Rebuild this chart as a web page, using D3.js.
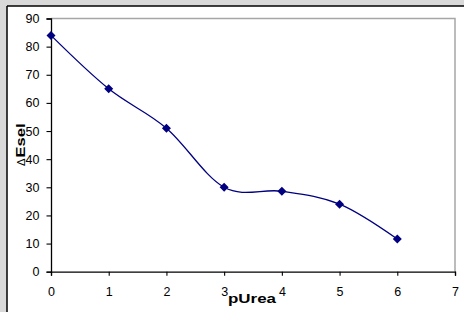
<!DOCTYPE html>
<html><head><meta charset="utf-8">
<script src="https://cdn.jsdelivr.net/npm/d3@7"></script>
<style>
html,body{margin:0;padding:0;background:#d9d9d9;}
svg{display:block;}
</style></head>
<body>
<script>
const xValues = [0, 1, 2, 3, 4, 5, 6];
const yValues = [84, 65, 51, 30, 28.6, 24, 11.6];
const xTicks = [0, 1, 2, 3, 4, 5, 6, 7];
const yTicks = [0, 10, 20, 30, 40, 50, 60, 70, 80, 90];
const xTitle = "pUrea";
const yTitleSymbol = "\u0394";
const yTitle = "Esel";

const W = 464, H = 312;
const svg = d3.select("body").append("svg").attr("width", W).attr("height", H);

// chart area
svg.append("rect").attr("x", 7).attr("y", 6).attr("width", W).attr("height", H).attr("fill", "#fff");
svg.append("line").attr("x1", 7).attr("x2", 7).attr("y1", 6).attr("y2", H).attr("stroke", "#000").attr("stroke-width", 1.5);
svg.append("line").attr("x1", 7).attr("x2", W).attr("y1", 6).attr("y2", 6).attr("stroke", "#000").attr("stroke-width", 1.5);

const x = d3.scaleLinear().domain([0, 7]).range([51, 455]);
const y = d3.scaleLinear().domain([0, 90]).range([271.7, 18.5]);

// plot area border top/right
svg.append("path")
  .attr("d", `M${x(0)},${y(90)}H${x(7)}V${y(0)}`)
  .attr("fill", "none").attr("stroke", "#a6a6a6").attr("stroke-width", 1.5);

const fontFam = "'Liberation Sans', Arial, sans-serif";

const yAxis = svg.append("g").attr("transform", `translate(${x(0)},0)`)
  .call(d3.axisLeft(y).tickValues(yTicks).tickSize(4.5).tickPadding(7).tickFormat(d3.format("d")));
const xAxis = svg.append("g").attr("transform", `translate(0,${y(0)})`)
  .call(d3.axisBottom(x).tickValues(xTicks).tickSize(4).tickPadding(11).tickFormat(d3.format("d")));
[yAxis, xAxis].forEach(g => {
  g.select(".domain").attr("stroke", "#000").attr("stroke-width", 1.3);
  g.selectAll(".tick line").attr("stroke", "#000").attr("stroke-width", 1.1);
  g.selectAll("text").attr("font-family", fontFam).attr("font-size", 12.5).attr("fill", "#000");
});

// line
const line = d3.line().x((d, i) => x(xValues[i])).y(d => y(d)).curve(d3.curveCardinal.tension(0));
svg.append("path").datum(yValues).attr("d", line)
  .attr("fill", "none").attr("stroke", "#000080").attr("stroke-width", 1.3);

// markers
svg.selectAll(".mk").data(yValues).enter().append("path")
  .attr("class", "mk")
  .attr("transform", (d, i) => `translate(${x(xValues[i])},${y(d)})`)
  .attr("d", "M0,-4.5L4.5,0L0,4.5L-4.5,0Z")
  .attr("fill", "#000080");

// titles
svg.append("text").attr("x", 252).attr("y", 303).attr("text-anchor", "middle")
  .attr("font-family", fontFam).attr("font-size", 13.5).attr("font-weight", "bold")
  .attr("textLength", 48).attr("lengthAdjust", "spacingAndGlyphs").text(xTitle);

svg.append("text").attr("transform", "translate(24.5,166) rotate(-90)").attr("text-anchor", "start")
  .attr("font-family", fontFam).attr("font-size", 10).attr("font-weight", "normal")
  .attr("textLength", 7.5).attr("lengthAdjust", "spacingAndGlyphs").text(yTitleSymbol);
svg.append("text").attr("transform", "translate(24.5,157.5) rotate(-90)").attr("text-anchor", "start")
  .attr("font-family", fontFam).attr("font-size", 12.5).attr("font-weight", "bold")
  .attr("textLength", 34).attr("lengthAdjust", "spacingAndGlyphs").text(yTitle);
</script>
</body></html>
